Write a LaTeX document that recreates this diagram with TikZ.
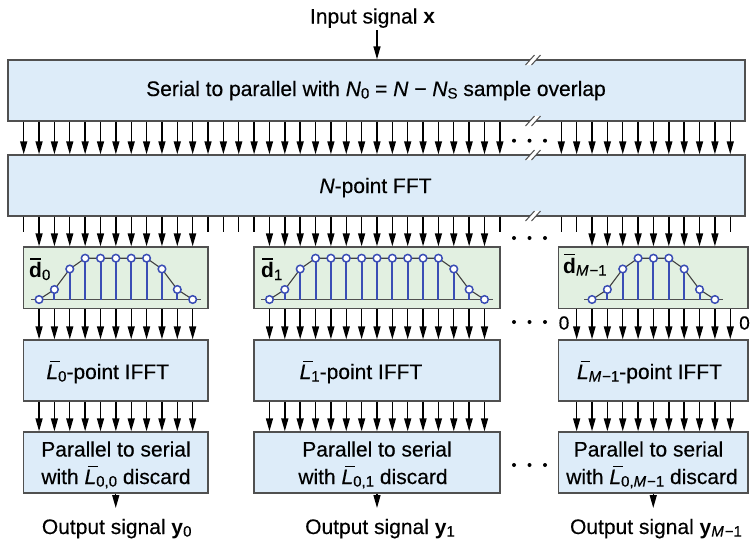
\documentclass[tikz,border=0pt]{standalone}
\usepackage{fontspec}
\setmainfont{Liberation Sans}[UprightFeatures={FakeBold=0.35},ItalicFeatures={FakeBold=0.35}]
\usetikzlibrary{arrows.meta}
\definecolor{boxblue}{HTML}{DDECF9}
\definecolor{boxgreen}{HTML}{E2F0E1}
\definecolor{edgegray}{HTML}{505050}
\definecolor{stemblue}{HTML}{3A4DB5}
\newcommand\Lb{\mbox{\rlap{\kern0.17em\rule[0.8em]{0.46em}{0.07em}}\textit{L}}}
\newcommand\db{\mbox{\rlap{\kern0.04em\rule[0.84em]{0.52em}{0.07em}}\textbf{d}}}
\newcommand\sbs[1]{\raisebox{-0.12em}{\fontsize{15}{15}\selectfont #1}}
\newcommand\brk[2]{%
  \fill[white] ({#1-7.5},{#2+5}) -- ({#1+1.5},{#2-5}) -- ({#1+7.5},{#2-5}) -- ({#1-1.5},{#2+5}) -- cycle;
  \draw[edgegray, line width=1pt] ({#1-7.5},{#2+5}) -- ({#1+1.5},{#2-5}) ({#1-1.5},{#2+5}) -- ({#1+7.5},{#2-5});}
\begin{document}
\begin{tikzpicture}[x=1pt,y=-1pt, font=\fontsize{21}{25}\selectfont,
  bbox/.style={draw=edgegray, line width=1.4pt, fill=boxblue, inner sep=0, minimum height=61pt},
  gbox/.style={draw=edgegray, line width=1.4pt, fill=boxgreen, inner sep=0, minimum height=61.5pt},
  arr/.style={draw=black, line width=1.4pt, -{Triangle[length=13pt,width=7pt]}},
  stub/.style={draw=black, line width=1.4pt},
  txt/.style={inner sep=0, anchor=base},
  zlab/.style={inner sep=0, font=\fontsize{19}{19}\selectfont},
  prof/.style={draw=black!75, line width=1.1pt},
  baseln/.style={draw=edgegray, line width=1.4pt},
  stm/.style={draw=stemblue, line width=2pt},
  smp/.style={draw=stemblue, fill=white, line width=1.5pt}]
\useasboundingbox (0,0) rectangle (750,542);

% boxes
\node[bbox, minimum width=737pt] (s2p) at (376.5,90.5) {};
\node[bbox, minimum width=737pt] (fft) at (376.5,185.5) {};
\node[gbox, minimum width=184.5pt] (d0) at (115.75,277.75) {};
\node[gbox, minimum width=246pt] (d1) at (377,277.75) {};
\node[gbox, minimum width=189.5pt] (dM) at (653.25,277.75) {};
\node[bbox, minimum width=184.5pt] (ifft0) at (115.75,370.5) {};
\node[bbox, minimum width=246pt] (ifft1) at (377,370.5) {};
\node[bbox, minimum width=189.5pt] (ifftM) at (653.25,370.5) {};
\node[bbox, minimum width=184.5pt] (ps0) at (115.75,462.5) {};
\node[bbox, minimum width=246pt] (ps1) at (377,462.5) {};
\node[bbox, minimum width=189.5pt] (psM) at (653.25,462.5) {};

% texts
\node[txt] (tin) at (372.5,23.5) {Input signal \textbf{x}};
\node[txt] (ts2p) at (376,96) {Serial to parallel with \textit{N}\sbs{0} = \textit{N} − \textit{N}\sbs{S} sample overlap};
\node[txt] (tfft) at (375.5,193) {\textit{N}-point FFT};
\node[txt, anchor=base west] (td0) at (29,277.5) {\db\sbs{0}};
\node[txt, anchor=base west] (td1) at (261,277.5) {\db\sbs{1}};
\node[txt, anchor=base west] (tdM) at (563,273) {\db\sbs{\textit{M}\kern1pt−1}};
\node[txt] (ti0) at (107.8,379) {\Lb\sbs{0}-point IFFT};
\node[txt] (ti1) at (361,379) {\Lb\sbs{1}-point IFFT};
\node[txt] (tiM) at (649.5,379) {\Lb\sbs{\textit{M}\kern1pt−1}-point IFFT};
\node[txt] (tp0a) at (116,456.5) {Parallel to serial};
\node[txt] (tp0b) at (116,484) {with \Lb\sbs{0,0} discard};
\node[txt] (tp1a) at (377,456.5) {Parallel to serial};
\node[txt] (tp1b) at (373,484) {with \Lb\sbs{0,1} discard};
\node[txt] (tpMa) at (648.5,456.5) {Parallel to serial};
\node[txt] (tpMb) at (652,484) {with \Lb\sbs{0,\textit{M}\kern1pt−1} discard};
\node[txt] (to0) at (116.7,534) {Output signal \textbf{y}\sbs{0}};
\node[txt] (to1) at (380,534) {Output signal \textbf{y}\sbs{1}};
\node[txt] (toM) at (656,534) {Output signal \textbf{y}\sbs{\textit{M}\kern1pt−1}};
\node[zlab] (z0) at (564,323) {0};
\node[zlab] (z1) at (744.5,323) {0};

% input / output arrows
\coordinate (inS) at (377,30);
\draw[arr] (inS) -- (inS |- s2p.north);
\coordinate (e0) at (115.75,508);
\coordinate (e1) at (377,508);
\coordinate (eM) at (653.25,508);
\draw[arr] (ps0.south) -- (e0);
\draw[arr] (ps1.south) -- (e1);
\draw[arr] (psM.south) -- (eM);

% s2p -> fft
\foreach \k in {0,...,31} {\pgfmathsetmacro\xx{23.7+15.36*\k}
  \draw[arr] (\xx,0 |- s2p.south) -- (\xx,0 |- fft.north);}
\foreach \k in {35,...,46} {\pgfmathsetmacro\xx{23.7+15.36*\k}
  \draw[arr] (\xx,0 |- s2p.south) -- (\xx,0 |- fft.north);}

% fft outputs: stubs
\foreach \k in {0,12,13,14,15,31,35,36,46} {\pgfmathsetmacro\xx{23.7+15.36*\k}
  \draw[stub] (\xx,0 |- fft.south) -- (\xx,232);}
\foreach \k in {1,...,11} {\pgfmathsetmacro\xx{23.7+15.36*\k}
  \draw[arr] (\xx,0 |- fft.south) -- (\xx,0 |- d0.north);
  \draw[arr] (\xx,0 |- d0.south) -- (\xx,0 |- ifft0.north);
  \draw[arr] (\xx,0 |- ifft0.south) -- (\xx,0 |- ps0.north);}
\foreach \k in {16,...,30} {\pgfmathsetmacro\xx{23.7+15.36*\k}
  \draw[arr] (\xx,0 |- fft.south) -- (\xx,0 |- d1.north);
  \draw[arr] (\xx,0 |- d1.south) -- (\xx,0 |- ifft1.north);
  \draw[arr] (\xx,0 |- ifft1.south) -- (\xx,0 |- ps1.north);}
\foreach \k in {37,...,45} {\pgfmathsetmacro\xx{23.7+15.36*\k}
  \draw[arr] (\xx,0 |- fft.south) -- (\xx,0 |- dM.north);}
\foreach \k in {36,...,46} {\pgfmathsetmacro\xx{23.7+15.36*\k}
  \draw[arr] (\xx,0 |- dM.south) -- (\xx,0 |- ifftM.north);
  \draw[arr] (\xx,0 |- ifftM.south) -- (\xx,0 |- psM.north);}

% stem plots
\def\by{299.5}
% d0
\draw[baseln] ({23.7+15.36*1-8},\by) -- ({23.7+15.36*11+8},\by);
\draw[prof] ({23.7+15.36},\by) \foreach \k/\h in {2/10,3/30.5,4/41.3,5/41.3,6/41.3,7/41.3,8/41.3,9/30.5,10/10,11/0} {-- ({23.7+15.36*\k},{\by-\h})};
\foreach \k/\h in {1/0,2/10,3/30.5,4/41.3,5/41.3,6/41.3,7/41.3,8/41.3,9/30.5,10/10,11/0} {
  \draw[stm] ({23.7+15.36*\k},\by) -- ({23.7+15.36*\k},{\by-\h});
  \draw[smp] ({23.7+15.36*\k},{\by-\h}) circle[radius=3.8pt];}
% d1
\draw[baseln] ({23.7+15.36*16-8},\by) -- ({23.7+15.36*30+8},\by);
\draw[prof] ({23.7+15.36*16},\by) \foreach \k/\h in {17/10,18/30.5,19/41.3,20/41.3,21/41.3,22/41.3,23/41.3,24/41.3,25/41.3,26/41.3,27/41.3,28/30.5,29/10,30/0} {-- ({23.7+15.36*\k},{\by-\h})};
\foreach \k/\h in {16/0,17/10,18/30.5,19/41.3,20/41.3,21/41.3,22/41.3,23/41.3,24/41.3,25/41.3,26/41.3,27/41.3,28/30.5,29/10,30/0} {
  \draw[stm] ({23.7+15.36*\k},\by) -- ({23.7+15.36*\k},{\by-\h});
  \draw[smp] ({23.7+15.36*\k},{\by-\h}) circle[radius=3.8pt];}
% dM
\draw[baseln] ({23.7+15.36*37-8},\by) -- ({23.7+15.36*45+8},\by);
\draw[prof] ({23.7+15.36*37},\by) \foreach \k/\h in {38/10,39/30.5,40/41.3,41/41.3,42/41.3,43/30.5,44/10,45/0} {-- ({23.7+15.36*\k},{\by-\h})};
\foreach \k/\h in {37/0,38/10,39/30.5,40/41.3,41/41.3,42/41.3,43/30.5,44/10,45/0} {
  \draw[stm] ({23.7+15.36*\k},\by) -- ({23.7+15.36*\k},{\by-\h});
  \draw[smp] ({23.7+15.36*\k},{\by-\h}) circle[radius=3.8pt];}

% ellipsis dots
\foreach \yy in {140.7,238,322,465} {
  \foreach \xx in {514,529.5,545} {\fill (\xx,\yy) circle[radius=2pt];}}

% break marks
\brk{533}{60}
\brk{533}{121}
\brk{533}{155}
\brk{533}{216}
\end{tikzpicture}
\end{document}
